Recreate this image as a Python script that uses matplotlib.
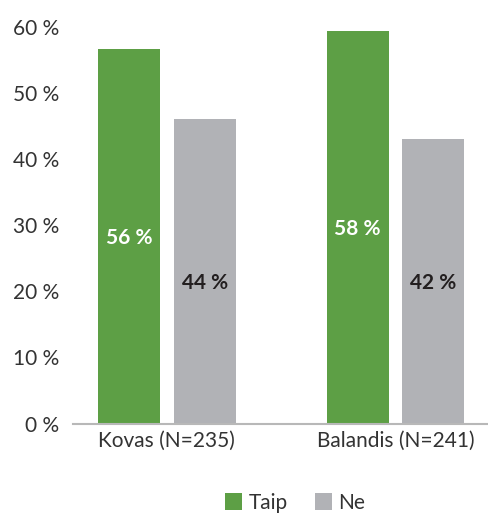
import matplotlib
matplotlib.use('Agg')
import matplotlib.pyplot as plt
import numpy as np

FONT = 'Lato'
plt.rcParams['font.family'] = [FONT, 'DejaVu Sans']

categories = ['Kovas (N=235)', 'Balandis (N=241)']
series_names = ['Taip', 'Ne']
taip = [56.6, 59.3]
ne = [46.1, 43.0]
taip_labels = ['56 %', '58 %']
ne_labels = ['44 %', '42 %']
yticks = [0, 10, 20, 30, 40, 50, 60]

GREEN = '#5d9f45'
GREY = '#b1b2b6'
TEXT = '#231f20'

fig = plt.figure(figsize=(4.89, 5.14), dpi=100)
ax = fig.add_axes([0.149, 0.176, 0.851, 0.772])

x = np.arange(len(categories))
w = 0.271
off = 0.166
b1 = ax.bar(x - off, taip, w, color=GREEN, label=series_names[0])
b2 = ax.bar(x + off, ne, w, color=GREY, label=series_names[1])

# value labels inside the bars
for xi, v, lab in zip(x - off, taip, taip_labels):
    ax.text(xi, v / 2 - 0.3, lab, ha='center', va='center', color='white',
            fontsize=15, fontweight='bold')
for xi, lab in zip(x + off, ne_labels):
    ax.text(xi, min(ne) / 2 - 0.3, lab, ha='center', va='center', color=TEXT,
            fontsize=15, fontweight='bold')

ax.set_xlim(-0.411, 1.409)
ax.set_ylim(0, 60)
ax.set_yticks(yticks)
ax.set_yticklabels(['%d %%' % t for t in yticks])
ax.set_xticks(x)
ax.set_xticklabels(categories)
ax.tick_params(axis='both', length=0, labelsize=15, colors='#333333')
ax.tick_params(axis='y', pad=10)
ax.tick_params(axis='x', pad=5)

for s in ['top', 'right', 'left']:
    ax.spines[s].set_visible(False)
ax.spines['bottom'].set_color('#b8b8b8')
ax.spines['bottom'].set_linewidth(1.5)

fig.legend(handles=[b1, b2], loc='center', bbox_to_anchor=(295 / 489, 1 - 503 / 514),
           ncol=2, frameon=False, fontsize=15, handlelength=0.85, handleheight=0.85,
           handletextpad=0.3, columnspacing=1.3, labelcolor='#333333')

plt.savefig('out.png', dpi=100)
